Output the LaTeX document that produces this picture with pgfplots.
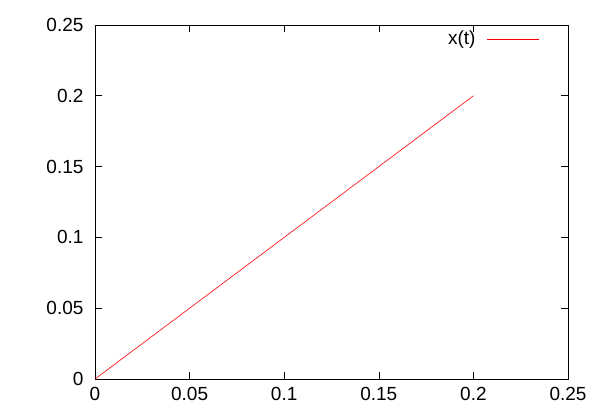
\documentclass[border=0pt]{standalone}
\usepackage{pgfplots}
\pgfplotsset{compat=1.18}
\usepackage{fontspec}
\setmainfont{Liberation Sans}
\begin{document}
\fontsize{19bp}{22bp}\selectfont
\begin{tikzpicture}[x=1bp,y=1bp]
\path (-95bp,-41bp) rectangle (505bp,379bp);
\begin{axis}[
  at={(0,0)}, anchor=south west,
  scale only axis, width=473bp, height=354bp,
  xmin=0, xmax=0.25, ymin=0, ymax=0.25,
  xtick={0,0.05,...,0.25}, ytick={0,0.05,...,0.25},
  xticklabels={0,0.05,0.1,0.15,0.2,0.25},
  yticklabels={0,0.05,0.1,0.15,0.2,0.25},
  tick align=inside, major tick length=7bp,
  tick style={black, line width=0.6bp},
  axis line style={black, line width=0.9bp},
  tick label style={font=\fontsize{19bp}{22bp}\selectfont},
  xticklabel style={yshift=-2bp},
  yticklabel style={xshift=-5bp},
  legend style={draw=none, fill=none, at={(0.947,0.995)}, anchor=north east,
    font=\fontsize{19bp}{22bp}\selectfont, legend cell align=right},
  legend plot pos=right,
  legend image code/.code={\path[draw=none] (0bp,0bp) -- (62bp,0bp);\draw[#1] (10bp,0bp) -- (62bp,0bp);},
]
\addplot[red, line width=0.6bp] coordinates {(0,0) (0.2,0.2)};
\addlegendentry{x(t)}
\end{axis}
\end{tikzpicture}
\end{document}
